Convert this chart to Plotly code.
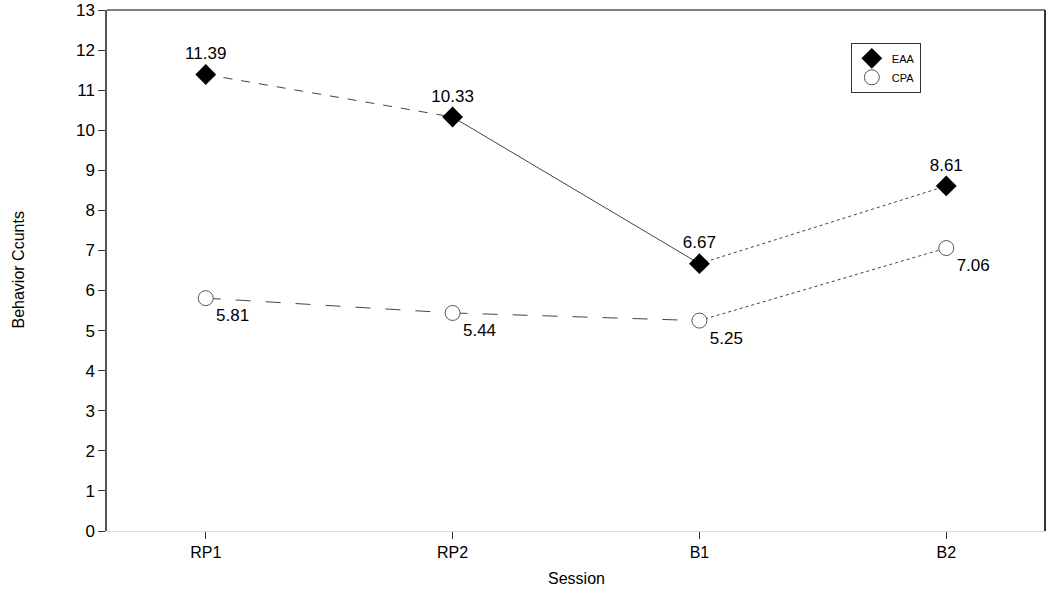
import plotly.graph_objects as go

sessions = ["RP1", "RP2", "B1", "B2"]
eaa = [11.39, 10.33, 6.67, 8.61]
cpa = [5.81, 5.44, 5.25, 7.06]
y_ticks = list(range(0, 14))

FONT = "Liberation Sans, Arial, Helvetica, sans-serif"
LINE = "#444444"

fig = go.Figure()

# line segments with per-segment dash styles
eaa_dash = ["dash", "solid", "dot"]
cpa_dash = ["longdash", "longdash", "dot"]
for i in range(3):
    fig.add_trace(go.Scatter(x=[i, i + 1], y=eaa[i:i + 2], mode="lines",
                             line=dict(color=LINE, width=1, dash=eaa_dash[i]),
                             showlegend=False, hoverinfo="skip"))
    fig.add_trace(go.Scatter(x=[i, i + 1], y=cpa[i:i + 2], mode="lines",
                             line=dict(color=LINE, width=1, dash=cpa_dash[i]),
                             showlegend=False, hoverinfo="skip"))

xi = list(range(len(sessions)))
fig.add_trace(go.Scatter(x=xi, y=eaa, mode="markers+text", name="EAA",
                         marker=dict(symbol="diamond", size=16, color="black",
                                     line=dict(color="black", width=0)),
                         text=[f"{v:.2f}" for v in eaa], textposition="top center",
                         textfont=dict(family=FONT, size=17, color="black")))
fig.add_trace(go.Scatter(x=xi, y=cpa, mode="markers+text", name="CPA",
                         marker=dict(symbol="circle", size=15, color="white",
                                     line=dict(color="#555555", width=1)),
                         text=[f"{v:.2f}" for v in cpa], textposition="bottom right",
                         textfont=dict(family=FONT, size=17, color="black")))

fig.update_layout(
    width=1050, height=590,
    margin=dict(l=107, r=5, t=10, b=59),
    paper_bgcolor="white", plot_bgcolor="white",
    font=dict(family=FONT, size=16, color="black"),
    legend=dict(x=0.793, y=0.937, xanchor="left", yanchor="top",
                bgcolor="white", bordercolor="#333333", borderwidth=1,
                font=dict(family=FONT, size=11, color="black"),
                itemwidth=30, tracegroupgap=0),
    xaxis=dict(range=[-0.4, 3.4], tickmode="array", tickvals=xi, ticktext=sessions,
               ticks="outside", ticklen=7, tickcolor="#333333", showgrid=False,
               zeroline=False, showline=True, linecolor="#dddddd", linewidth=1,
               mirror=False, automargin=False, tickfont=dict(family=FONT, size=16)),
    yaxis=dict(range=[0, 13], tickmode="array", tickvals=y_ticks,
               ticks="outside", ticklen=7, tickcolor="#333333", showgrid=False,
               zeroline=False, showline=True, linecolor="#555555", linewidth=1.5,
               automargin=False, ticklabeloverflow="allow",
               tickfont=dict(family=FONT, size=17)),
    annotations=[
        dict(text="Session", xref="paper", yref="paper", x=0.5, y=0, yshift=-47,
             xanchor="center", yanchor="middle", showarrow=False,
             font=dict(family=FONT, size=16, color="black")),
        dict(text="Behavior Ccunts", xref="paper", yref="paper", x=0, xshift=-89, y=0.5,
             xanchor="center", yanchor="middle", textangle=-90, showarrow=False,
             font=dict(family=FONT, size=16, color="black")),
    ],
)

# top and right frame lines
fig.add_shape(type="line", xref="paper", yref="paper", x0=0, x1=1, y0=1, y1=1,
              line=dict(color="#555555", width=1.5))
fig.add_shape(type="line", xref="paper", yref="paper", x0=1, x1=1, y0=0, y1=1,
              line=dict(color="#333333", width=2))

fig.write_html("out.html", config={"displayModeBar": False},
               post_script="document.body.style.margin='0';document.body.style.padding='0';")
